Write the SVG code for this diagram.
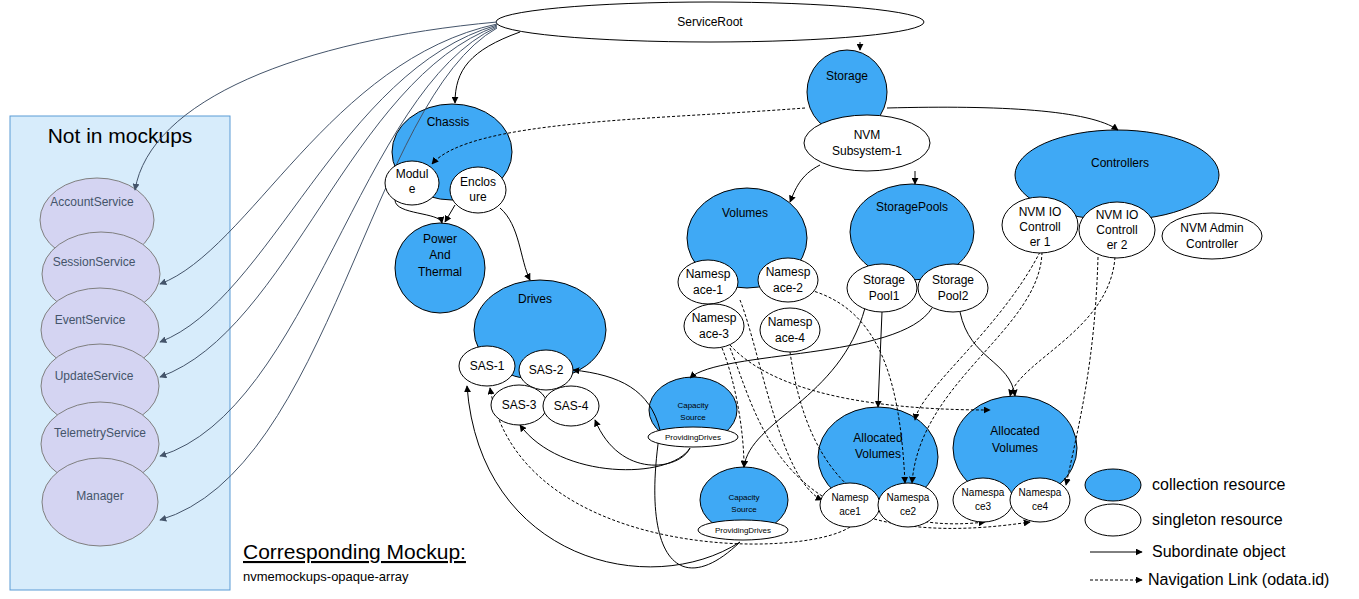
<svg xmlns="http://www.w3.org/2000/svg" width="1359" height="599" viewBox="0 0 1359 599">
<defs>
<marker id="a" viewBox="0 0 10 10" refX="9" refY="5" markerWidth="7" markerHeight="7" orient="auto"><path d="M0,0L10,5L0,10z" fill="#000"/></marker>
<marker id="g" viewBox="0 0 10 10" refX="9" refY="5" markerWidth="7" markerHeight="7" orient="auto"><path d="M0,0L10,5L0,10z" fill="#44546a"/></marker>
<style>
text{font-family:"Liberation Sans",Arial,sans-serif;font-size:12px;fill:#000;text-anchor:middle}
.c{fill:#3fa9f5;stroke:#000;stroke-width:1}
.s{fill:#fff;stroke:#000;stroke-width:1}
.p{fill:#d4d4f2;stroke:#7f7f7f;stroke-width:1}
.pt{fill:#44546a;font-size:12px}
.l{fill:none;stroke:#000;stroke-width:1;marker-end:url(#a)}
.d{fill:none;stroke:#000;stroke-width:1;stroke-dasharray:3,2;marker-end:url(#a)}
.lg{fill:none;stroke:#44546a;stroke-width:1;marker-end:url(#g)}
.sm{font-size:8px}
.t{font-size:10px}
</style>
</defs>
<rect x="10" y="116" width="220" height="474" fill="#d7ecfb" stroke="#5b9bd5"/>
<text x="120" y="143" style="font-size:21px">Not in mockups</text>
<g id="left">
<g id="AccountService"><ellipse class="p" cx="97" cy="220" rx="57" ry="42"/><text class="pt" x="92" y="206">AccountService</text></g>
<g id="SessionService"><ellipse class="p" cx="101" cy="274" rx="59" ry="42"/><text class="pt" x="94" y="266">SessionService</text></g>
<g id="EventService"><ellipse class="p" cx="100" cy="330" rx="59" ry="42"/><text class="pt" x="90" y="324">EventService</text></g>
<g id="UpdateService"><ellipse class="p" cx="100" cy="386" rx="59" ry="42"/><text class="pt" x="94" y="380">UpdateService</text></g>
<g id="TelemetryService"><ellipse class="p" cx="100" cy="444" rx="59" ry="42"/><text class="pt" x="100" y="437">TelemetryService</text></g>
<g id="Manager"><ellipse class="p" cx="100" cy="502" rx="58" ry="44"/><text class="pt" x="100" y="500">Manager</text></g>
</g>
<g id="ServiceRoot"><ellipse class="s" cx="710" cy="22" rx="214" ry="20"/><text x="710" y="26">ServiceRoot</text></g>
<g id="Chassis"><ellipse class="c" cx="452" cy="152" rx="60" ry="48"/><text x="448" y="126">Chassis</text></g>
<g id="PowerAndThermal"><ellipse class="c" cx="440" cy="268" rx="45" ry="45"/><text x="440" y="243">Power</text><text x="440" y="259">And</text><text x="440" y="276">Thermal</text></g>
<g id="Drives"><ellipse class="c" cx="540" cy="330" rx="66" ry="50"/><text x="535" y="303">Drives</text></g>
<g id="Storage"><ellipse class="c" cx="847" cy="92" rx="40" ry="42"/><text x="847" y="80">Storage</text></g>
<g id="Volumes"><ellipse class="c" cx="747" cy="238" rx="60" ry="50"/><text x="745" y="217">Volumes</text></g>
<g id="StoragePools"><ellipse class="c" cx="912" cy="232" rx="62" ry="48"/><text x="912" y="211">StoragePools</text></g>
<g id="Controllers"><ellipse class="c" cx="1117" cy="175" rx="102" ry="45"/><text x="1120" y="167">Controllers</text></g>
<g id="CapacitySource1"><ellipse class="c" cx="693" cy="410" rx="44" ry="33"/><text class="sm" x="693" y="408">Capacity</text><text class="sm" x="693" y="420">Source</text></g>
<g id="CapacitySource2"><ellipse class="c" cx="744" cy="500" rx="44" ry="33"/><text class="sm" x="744" y="500">Capacity</text><text class="sm" x="744" y="512">Source</text></g>
<g id="AllocatedVolumes1"><ellipse class="c" cx="878" cy="457" rx="60" ry="50"/><text x="878" y="442">Allocated</text><text x="878" y="458">Volumes</text></g>
<g id="AllocatedVolumes2"><ellipse class="c" cx="1015" cy="448" rx="62" ry="52"/><text x="1015" y="435">Allocated</text><text x="1015" y="452">Volumes</text></g>
<g id="connectors">
<path class="lg" d="M497,22 C300,40 150,100 135,190"/>
<path class="lg" d="M497,24 C330,60 250,250 160,284"/>
<path class="lg" d="M497,25 C340,70 270,300 160,342"/>
<path class="lg" d="M497,26 C350,80 290,330 160,377"/>
<path class="lg" d="M497,27 C360,90 310,410 160,456"/>
<path class="lg" d="M497,28 C370,100 330,470 160,520"/>
<path class="l" d="M520,32 C470,50 455,70 455,103"/>
<path class="l" d="M860,42 L860,50"/>
<path class="l" d="M887,108 C1000,105 1090,110 1118,130"/>
<path class="l" d="M820,165 C800,175 795,190 790,202"/>
<path class="l" d="M915,171 L915,184"/>
<path class="d" d="M805,108 C650,120 470,120 432,164"/>
<path class="l" d="M395,200 C395,215 440,212 442,223"/>
<path class="l" d="M455,205 L445,222"/>
<path class="l" d="M500,208 C520,225 520,260 530,280"/>
<path class="l" d="M932,308 C900,360 720,350 690,378"/>
<path class="l" d="M690,448 C670,480 560,480 520,425"/>
<path class="l" d="M690,448 C680,470 620,480 595,420"/>
<path class="l" d="M865,308 C840,400 750,420 744,467"/>
<path class="l" d="M740,542 C650,600 480,560 467,386"/>
<path class="l" d="M740,542 C680,600 640,560 660,430 C650,390 620,375 573,370"/>
<path class="l" d="M882,312 L878,407"/>
<path class="l" d="M960,312 C970,360 1010,360 1015,396"/>
<path class="d" d="M722,348 C735,380 744,430 744,467"/>
<path class="d" d="M740,300 C760,350 780,480 822,500"/>
<path class="d" d="M810,290 C880,310 900,380 905,483"/>
<path class="d" d="M730,345 C780,400 900,410 990,410"/>
<path class="d" d="M790,352 C800,420 830,540 985,522"/>
<path class="d" d="M1042,252 C1040,330 920,380 912,483"/>
<path class="d" d="M1040,252 C1000,330 920,390 915,420"/>
<path class="d" d="M1115,257 C1110,330 1020,360 1010,396"/>
<path class="d" d="M1098,257 C1095,360 1080,420 1066,485"/>
<path class="d" d="M850,527 C800,560 520,560 490,388"/>
<path class="d" d="M730,348 C760,420 780,560 1030,522"/>
</g>
<g id="Module"><ellipse class="s" cx="412" cy="183" rx="27" ry="22"/><text x="412" y="178">Modul</text><text x="412" y="193">e</text></g>
<g id="Enclosure"><ellipse class="s" cx="478" cy="190" rx="28" ry="23"/><text x="478" y="186">Enclos</text><text x="478" y="201">ure</text></g>
<g id="SAS-1"><ellipse class="s" cx="487" cy="366" rx="28" ry="20"/><text x="487" y="370">SAS-1</text></g>
<g id="SAS-2"><ellipse class="s" cx="546" cy="370" rx="27" ry="20"/><text x="546" y="374">SAS-2</text></g>
<g id="SAS-3"><ellipse class="s" cx="519" cy="405" rx="28" ry="20"/><text x="519" y="409">SAS-3</text></g>
<g id="SAS-4"><ellipse class="s" cx="571" cy="406" rx="28" ry="20"/><text x="571" y="410">SAS-4</text></g>
<g id="NVMSubsystem"><ellipse class="s" cx="867" cy="143" rx="63" ry="28"/><text x="867" y="139">NVM</text><text x="867" y="155">Subsystem-1</text></g>
<g id="Namespace-1"><ellipse class="s" cx="708" cy="282" rx="30" ry="22"/><text x="708" y="278">Namesp</text><text x="708" y="294">ace-1</text></g>
<g id="Namespace-2"><ellipse class="s" cx="788" cy="280" rx="30" ry="22"/><text x="788" y="276">Namesp</text><text x="788" y="292">ace-2</text></g>
<g id="Namespace-3"><ellipse class="s" cx="714" cy="326" rx="30" ry="22"/><text x="714" y="322">Namesp</text><text x="714" y="338">ace-3</text></g>
<g id="Namespace-4"><ellipse class="s" cx="790" cy="330" rx="30" ry="22"/><text x="790" y="326">Namesp</text><text x="790" y="342">ace-4</text></g>
<g id="StoragePool1"><ellipse class="s" cx="882" cy="288" rx="35" ry="24"/><text x="884" y="284">Storage</text><text x="884" y="300">Pool1</text></g>
<g id="StoragePool2"><ellipse class="s" cx="953" cy="288" rx="35" ry="24"/><text x="953" y="284">Storage</text><text x="953" y="300">Pool2</text></g>
<g id="NVMIOController1"><ellipse class="s" cx="1040" cy="225" rx="38" ry="28"/><text x="1040" y="216">NVM IO</text><text x="1040" y="231">Controll</text><text x="1040" y="246">er 1</text></g>
<g id="NVMIOController2"><ellipse class="s" cx="1117" cy="230" rx="38" ry="28"/><text x="1117" y="219">NVM IO</text><text x="1117" y="234">Controll</text><text x="1117" y="249">er 2</text></g>
<g id="NVMAdminController"><ellipse class="s" cx="1212" cy="236" rx="50" ry="23"/><text x="1212" y="232">NVM Admin</text><text x="1212" y="248">Controller</text></g>
<g id="ProvidingDrives1"><ellipse class="s" cx="693" cy="437" rx="45" ry="10"/><text class="sm" x="693" y="440">ProvidingDrives</text></g>
<g id="ProvidingDrives2"><ellipse class="s" cx="743" cy="530" rx="45" ry="10"/><text class="sm" x="743" y="533">ProvidingDrives</text></g>
<g id="Namespace1"><ellipse class="s" cx="850" cy="505" rx="30" ry="22"/><text class="t" x="850" y="501">Namesp</text><text class="t" x="850" y="515">ace1</text></g>
<g id="Namespace2"><ellipse class="s" cx="908" cy="505" rx="30" ry="22"/><text class="t" x="908" y="501">Namespa</text><text class="t" x="908" y="515">ce2</text></g>
<g id="Namespace3"><ellipse class="s" cx="983" cy="500" rx="30" ry="22"/><text class="t" x="983" y="496">Namespa</text><text class="t" x="983" y="510">ce3</text></g>
<g id="Namespace4"><ellipse class="s" cx="1040" cy="500" rx="30" ry="22"/><text class="t" x="1040" y="496">Namespa</text><text class="t" x="1040" y="510">ce4</text></g>
<g id="legend">
<ellipse class="c" cx="1113" cy="485" rx="28" ry="16"/><text x="1152" y="490" style="text-anchor:start;font-size:16px">collection resource</text>
<ellipse class="s" cx="1113" cy="520" rx="28" ry="16"/><text x="1152" y="525" style="text-anchor:start;font-size:16px">singleton resource</text>
<path class="l" d="M1090,552 L1142,552"/><text x="1152" y="557" style="text-anchor:start;font-size:16px">Subordinate object</text>
<path class="d" d="M1090,580 L1142,580"/><text x="1148" y="585" style="text-anchor:start;font-size:16px">Navigation Link (odata.id)</text>
</g>
<text x="243" y="559" style="text-anchor:start;font-size:21px;text-decoration:underline">Corresponding Mockup:</text>
<text x="243" y="581" style="text-anchor:start;font-size:13px">nvmemockups-opaque-array</text>
</svg>
